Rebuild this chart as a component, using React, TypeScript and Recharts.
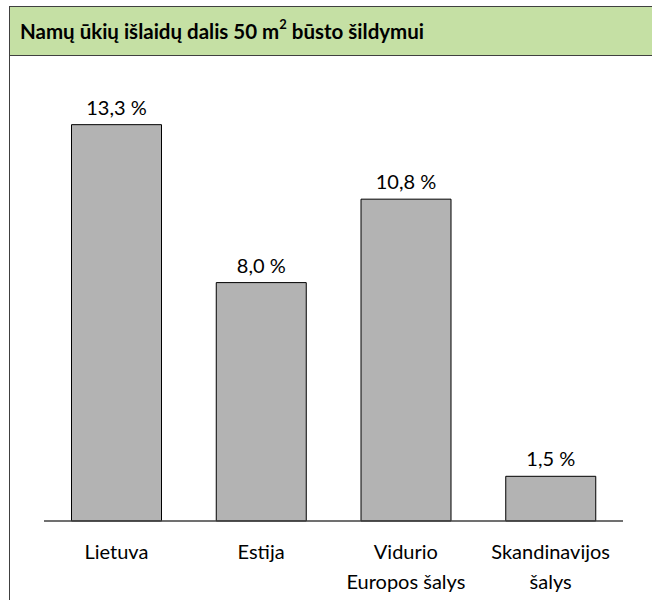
import React from 'react';
import { Bar, BarChart, XAxis, YAxis, LabelList } from 'recharts';

const categories = ['Lietuva', 'Estija', 'Vidurio\nEuropos šalys', 'Skandinavijos\nšalys'];
const shares = [13.3, 8.0, 10.8, 1.5];

const data = categories.map((name, i) => ({ name, value: shares[i] }));

const FONT = 'Lato, "Open Sans", sans-serif';

// splits the category name into lines
function CategoryTick(props: any) {
    const { x, y, payload } = props;
    const lines = String(payload.value).split('\n');
    return (
        <text x={x} y={y} textAnchor="middle" fontSize={20} fill="#000" fontFamily={FONT}>
            {lines.map((line, i) => (
                <tspan key={i} x={x} y={y + 30 + i * 30}>
                    {line}
                </tspan>
            ))}
        </text>
    );
}

const formatShare = (v: any) => `${Number(v).toFixed(1).replace('.', ',')} %`;

// plain label above the bar, no wrapping
function ShareLabel(props: any) {
    const { x, y, width, value } = props;
    return (
        <text x={x + width / 2} y={y - 10} textAnchor="middle" fontSize={20} fill="#000" fontFamily={FONT}>
            {formatShare(value)}
        </text>
    );
}

export default function App() {
    return (
        <div
            style={{
                position: 'absolute',
                left: 9,
                top: 6,
                width: 700,
                height: 700,
                borderLeft: '1px solid #404040',
                borderTop: '1px solid #404040',
                fontFamily: FONT,
                background: '#fff',
            }}
        >
            <div
                style={{
                    height: 48,
                    background: '#C5E0A4',
                    borderBottom: '1px solid #404040',
                    display: 'flex',
                    alignItems: 'center',
                    paddingLeft: 10,
                    fontWeight: 700,
                    fontSize: 20.5,
                    color: '#000',
                    whiteSpace: 'pre',
                }}
            >
                Namų ūkių išlaidų dalis 50 m
                <span style={{ fontSize: 13, position: 'relative', top: -7 }}>2</span> būsto šildymui
            </div>
            <BarChart
                width={640}
                height={555}
                data={data}
                margin={{ top: 18, right: 27, bottom: 20, left: 34 }}
                barCategoryGap="19%"
            >
                <XAxis
                    dataKey="name"
                    height={70}
                    tickLine={false}
                    axisLine={{ stroke: '#404040', strokeWidth: 1.5 }}
                    tick={<CategoryTick />}
                    interval={0}
                />
                <YAxis hide domain={[0, 15]} />
                <Bar dataKey="value" fill="#B3B3B3" stroke="#000" strokeWidth={1} isAnimationActive={false}>
                    <LabelList dataKey="value" content={<ShareLabel />} />
                </Bar>
            </BarChart>
        </div>
    );
}
